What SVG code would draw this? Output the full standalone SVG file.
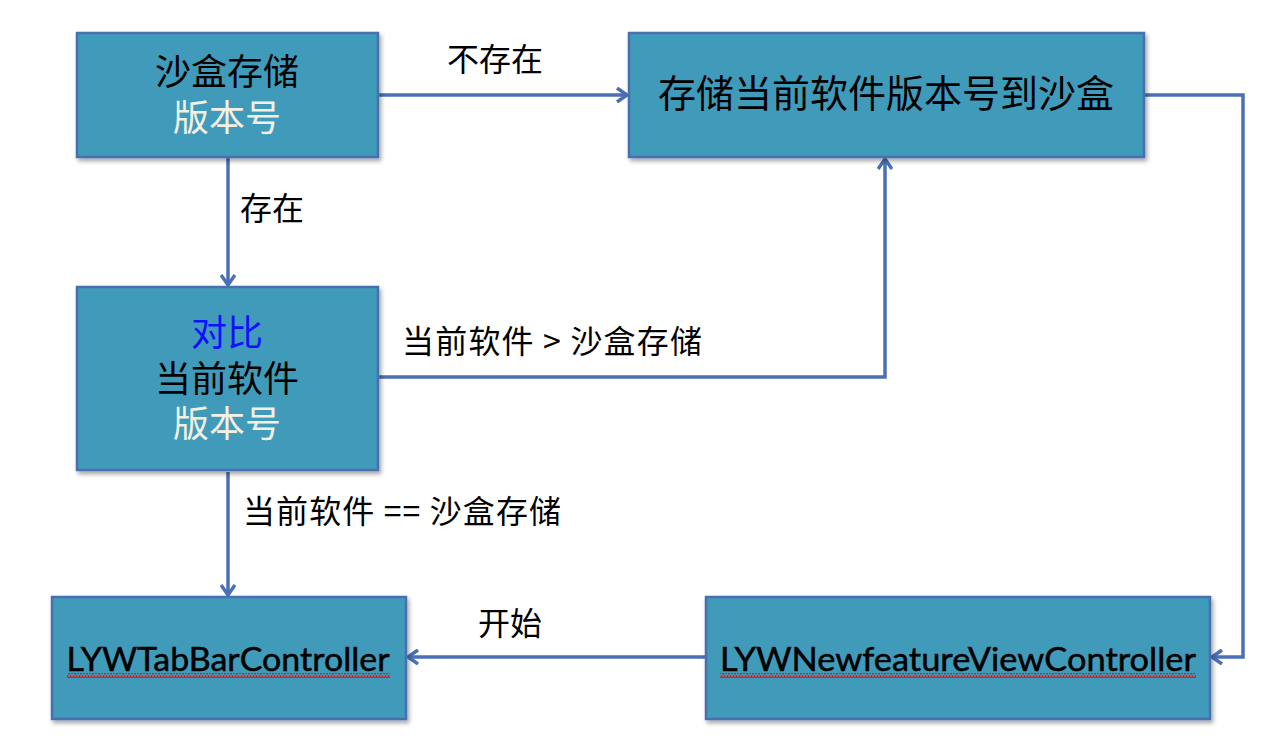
<svg xmlns="http://www.w3.org/2000/svg" width="1274" height="748" viewBox="0 0 1274 748">
<defs>
<style>
.box{fill:#3f9bba;stroke:#4a6fae;stroke-width:2.5;filter:url(#sh)}
.cn{fill:#000;font-family:"Noto Sans CJK SC",sans-serif;text-anchor:middle}
.big{font-size:36px}
.ivory{fill:#f2f0e2}
.blue{fill:#1010ff}
.lab{font-size:32px}
.lat{font-family:Lato,"Liberation Sans",sans-serif;font-size:33px;fill:#000;stroke:#000;stroke-width:0.5;text-anchor:middle}
.edge{fill:none;stroke:#4a6fb5;stroke-width:3.5;stroke-linejoin:miter}
</style>
<filter id="sh" x="-10%" y="-10%" width="120%" height="130%">
<feDropShadow dx="2" dy="3" stdDeviation="2" flood-color="#000" flood-opacity="0.35"/>
</filter>
<marker id="ah" markerWidth="16" markerHeight="16" refX="12" refY="8" orient="auto" markerUnits="userSpaceOnUse">
<path d="M2,1 L12,8 L2,15" fill="none" stroke="#4a6fb5" stroke-width="3.5"/>
</marker>
<pattern id="sq" width="6" height="5" patternUnits="userSpaceOnUse">
<path d="M0,4 L1.5,1 L3,4 L4.5,1 L6,4" fill="none" stroke="#d82020" stroke-width="1.4"/>
</pattern>
</defs>

<g id="connectors">
<path class="edge" d="M378,95 L627,95" marker-end="url(#ah)"/>
<path class="edge" d="M228,158 L228,285" marker-end="url(#ah)"/>
<path class="edge" d="M378,377 L885,377 L885,159" marker-end="url(#ah)"/>
<path class="edge" d="M228,472 L228,595" marker-end="url(#ah)"/>
<path class="edge" d="M1144,95 L1243,95 L1243,657 L1212,657" marker-end="url(#ah)"/>
<path class="edge" d="M706,657 L408,657" marker-end="url(#ah)"/>
<text class="cn lab" x="495" y="71">不存在</text>
<text class="cn lab" x="272" y="220">存在</text>
<text class="cn lab" x="552" y="353" textLength="300" lengthAdjust="spacing">当前软件 &gt; 沙盒存储</text>
<text class="cn lab" x="402" y="523" textLength="318" lengthAdjust="spacing">当前软件 == 沙盒存储</text>
<text class="cn lab" x="510" y="635">开始</text>
</g>

<g id="n1">
<rect class="box" x="77" y="33" width="301" height="124"/>
<text class="cn big" x="227" y="85">沙盒存储</text>
<text class="cn big ivory" x="227" y="131">版本号</text>
</g>

<g id="n2">
<rect class="box" x="629" y="33" width="515" height="124"/>
<text class="cn" x="886" y="107" style="font-size:38px">存储当前软件版本号到沙盒</text>
</g>

<g id="n3">
<rect class="box" x="77" y="287" width="301" height="183"/>
<text class="cn big blue" x="227" y="346">对比</text>
<text class="cn big" x="227" y="392">当前软件</text>
<text class="cn big ivory" x="227" y="437">版本号</text>
</g>

<g id="n4">
<rect class="box" x="52" y="597" width="354" height="122"/>
<text class="lat" x="228" y="671" textLength="323" lengthAdjust="spacingAndGlyphs">LYWTabBarController</text>
<rect x="67" y="673" width="323" height="5" fill="url(#sq)"/>
</g>

<g id="n5">
<rect class="box" x="706" y="597" width="504" height="122"/>
<text class="lat" x="958" y="671" textLength="476" lengthAdjust="spacingAndGlyphs">LYWNewfeatureViewController</text>
<rect x="720" y="673" width="476" height="5" fill="url(#sq)"/>
</g>
</svg>
